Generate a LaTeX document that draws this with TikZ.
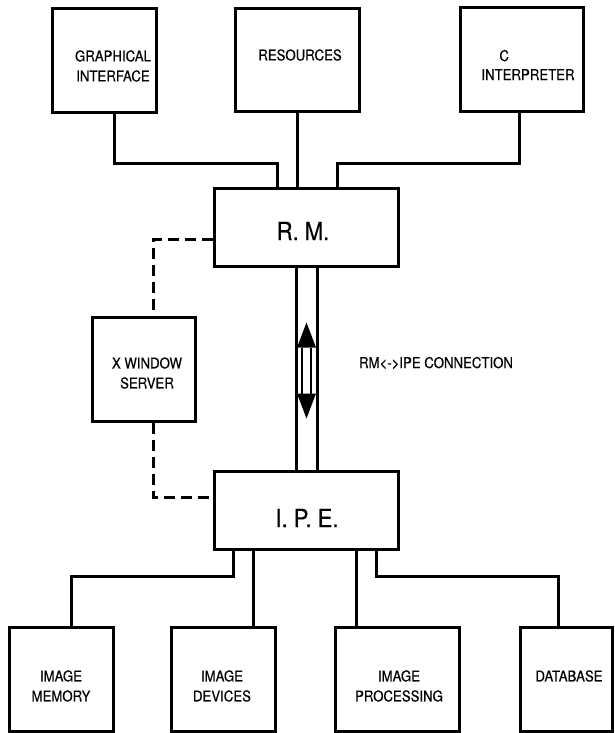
\documentclass[tikz,border=0pt]{standalone}
\usepackage{fontspec}
\setsansfont[FakeStretch=0.88, FakeBold=0.4]{TeX Gyre Heros}
\usetikzlibrary{calc}

\tikzset{
  blk/.style={draw, line width=3pt, rectangle, inner sep=0pt},
  wire/.style={line width=3pt},
  dashwire/.style={line width=3pt, dash pattern=on 11pt off 6pt},
  lbl/.style={font=\sffamily\fontsize{15}{20}\selectfont, align=center, inner sep=0pt},
  biglbl/.style={font=\sffamily\fontsize{25}{30}\selectfont, inner sep=0pt},
}

\begin{document}
\begin{tikzpicture}[x=1pt, y=-1pt]
  \useasboundingbox (0,0) rectangle (614,733);

  % Top row
  \node[blk, minimum width=104pt, minimum height=104pt] (gi)  at (104,61)   {};
  \node[lbl] (gitxt) at (113,66) {GRAPHICAL\\INTERFACE};
  \node[blk, minimum width=124pt, minimum height=103pt] (res) at (297,60.5) {};
  \node[lbl] (restxt) at (300,55) {RESOURCES};
  \node[blk, minimum width=123pt, minimum height=104pt] (cint) at (521.5,60) {};
  \node[lbl, align=left] (cinttxt) at (528,65) {\hspace*{18pt}C\\[-1pt]INTERPRETER};

  % Manager and engine
  \node[blk, minimum width=184pt, minimum height=78pt] (rm)  at (306,227) {};
  \node[biglbl] (rmtxt) at (303,231) {R. M.};
  \node[blk, minimum width=184pt, minimum height=78pt] (ipe) at (306,510) {};
  \node[biglbl] (ipetxt) at (307,518) {I. P. E.};

  % X server
  \node[blk, minimum width=103pt, minimum height=104pt] (xws) at (143.5,369) {};
  \node[lbl] (xwstxt) at (147,373) {X WINDOW\\SERVER};

  % Bottom row
  \node[blk, minimum width=104pt, minimum height=104pt] (mem)  at (61,679)  {};
  \node[lbl] (memtxt) at (61,686) {IMAGE\\MEMORY};
  \node[blk, minimum width=104pt, minimum height=104pt] (dev)  at (223,679) {};
  \node[lbl] (devtxt) at (222,686) {IMAGE\\DEVICES};
  \node[blk, minimum width=124pt, minimum height=104pt] (proc) at (397,679) {};
  \node[lbl] (proctxt) at (399,686) {IMAGE\\PROCESSING};
  \node[blk, minimum width=92pt, minimum height=104pt] (db)   at (566,679) {};
  \node[lbl] (dbtxt) at (569,676) {DATABASE};

  % junction points
  \coordinate (ja) at (114,163);
  \coordinate (jb) at (277,163);
  \coordinate (jc) at (519,163);
  \coordinate (jd) at (337,163);
  \coordinate (je) at (233,576);
  \coordinate (jf) at (71,576);
  \coordinate (jg) at (376,576);
  \coordinate (jh) at (558,576);

  % RM links
  \draw[wire] (gi.south -| ja) |- (jb) -- (jb |- rm.north);
  \draw[wire] (res.south) -- (res.south |- rm.north);
  \draw[wire] (cint.south -| jc) |- (jd) -- (jd |- rm.north);

  % RM <-> IPE channel
  \draw[wire] ([xshift=-10pt]rm.south) -- ([xshift=-10pt]ipe.north);
  \draw[wire] ([xshift=11pt]rm.south) -- ([xshift=11pt]ipe.north);
  \coordinate (link) at ($(rm.south)!0.5!(ipe.north)$);
  \begin{scope}[shift={(link)}]
    \fill (0.5,-46) -- (-9,-21) -- (10,-21) -- cycle;
    \fill (0.5,50) -- (-9,25) -- (10,25) -- cycle;
    \draw[line width=1.6pt] (-4,-21) -- (-4,25);
    \draw[line width=1.6pt] (5,-21) -- (5,25);
  \end{scope}
  \node[lbl] (conn) at (436,363) {RM\textless-\textgreater IPE CONNECTION};

  % X server links
  \draw[dashwire] ([yshift=-12pt]rm.west) -| ([xshift=9.5pt]xws.north);
  \draw[dashwire] ([xshift=9.5pt]xws.south) |- ([yshift=13pt]ipe.west);

  % IPE links
  \draw[wire] (ipe.south -| je) |- (jf) -- (jf |- mem.north);
  \draw[wire] ([xshift=-53pt]ipe.south) -- ([xshift=-53pt]ipe.south |- dev.north);
  \draw[wire] ([xshift=50pt]ipe.south) -- ([xshift=50pt]ipe.south |- proc.north);
  \draw[wire] (ipe.south -| jg) |- (jh) -- (jh |- db.north);
\end{tikzpicture}
\end{document}
